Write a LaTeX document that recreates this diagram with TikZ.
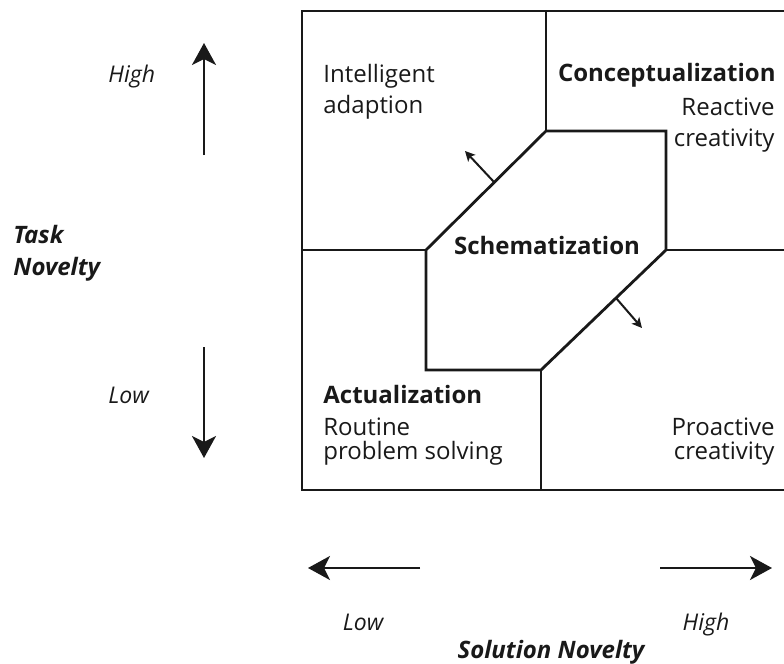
\documentclass[tikz,border=0pt]{standalone}
\usepackage{fontspec}
\setmainfont{Open Sans}
\usetikzlibrary{arrows.meta,positioning}
\tikzstyle{every node}=[inner sep=0pt,font=\fontsize{12}{14}\selectfont,text=black!90]
\tikzstyle{cell}=[anchor=base west]
\tikzstyle{cellr}=[anchor=base east]
\tikzstyle{head}=[font=\fontsize{12}{14}\selectfont\bfseries]
\tikzstyle{axislabel}=[font=\fontsize{12}{14}\selectfont\bfseries\itshape]
\tikzstyle{axisend}=[font=\fontsize{11.5}{14}\selectfont\itshape]
\tikzstyle{wall}=[line width=1.4pt,line join=miter,black!90]
\tikzstyle{axis}=[line width=1.2pt,black!90,-{Stealth[length=11pt,width=12pt,inset=3pt]}]
\tikzstyle{push}=[line width=1pt,black!90,-{Stealth[length=5pt,width=5pt,inset=1.2pt]}]

\begin{document}
\begin{tikzpicture}[x=0.5pt,y=-0.5pt]
  \useasboundingbox (0,0) rectangle (784,664);

  % frame and regions
  \draw[wall] (784,11) -- (302,11) -- (302,490) -- (784,490);
  \draw[wall] (546,11) -- (546,131);
  \draw[wall] (546,131) -- (666,131) -- (666,250) -- (541,370)
        -- (426,370) -- (426,250) -- cycle;
  \draw[wall] (302,250) -- (426,250);
  \draw[wall] (666,250) -- (784,250);
  \draw[wall] (541,370) -- (541,490);

  % quadrant texts
  \node[cell]  (intel)    at (323,83)  {Intelligent};
  \node[cell]  (adapt)    at (323,113) {adaption};
  \node[cellr,head] (concept) at (776,82) {Conceptualization};
  \node[cellr] (react)    at (775,115) {Reactive};
  \node[cellr] (reactcre) at (775,147) {creativity};
  \node[head,anchor=base] (schema) at (547,255) {Schematization};
  \node[cell,head] (actual) at (323,403) {Actualization};
  \node[cell]  (routine)  at (323,435) {Routine};
  \node[cell]  (probsolv) at (323,459) {problem solving};
  \node[cellr] (proact)   at (775,435) {Proactive};
  \node[cellr] (proactcre) at (775,459) {creativity};

  % expansion arrows
  \coordinate (ulfoot) at (494,182);
  \coordinate (ultip)  at (465,151);
  \coordinate (lrfoot) at (616,298);
  \coordinate (lrtip)  at (642,328);
  \draw[push] (ulfoot) -- (ultip);
  \draw[push] (lrfoot) -- (lrtip);

  % task novelty axis
  \node[cell,axisend] (taskhi) at (108,83)  {High};
  \node[cell,axisend] (tasklo) at (108,403) {Low};
  \node[cell,axislabel] (task)  at (13,243) {Task};
  \node[cell,axislabel] (novel) at (13,275) {Novelty};
  \coordinate (upfoot) at (204,155);
  \coordinate (uptip)  at (204,43);
  \coordinate (dnfoot) at (204,347);
  \coordinate (dntip)  at (204,458);
  \draw[axis] (upfoot) -- (uptip);
  \draw[axis] (dnfoot) -- (dntip);

  % solution novelty axis
  \coordinate (ltfoot) at (420,568);
  \coordinate (lttip)  at (308,568);
  \coordinate (rtfoot) at (660,568);
  \coordinate (rttip)  at (772,568);
  \draw[axis] (ltfoot) -- (lttip);
  \draw[axis] (rtfoot) -- (rttip);
  \node[anchor=base,axisend] (sollo) at (363,630) {Low};
  \node[anchor=base,axisend] (solhi) at (706,630) {High};
  \node[anchor=base,axislabel] (solution) at (551,658) {Solution Novelty};
\end{tikzpicture}
\end{document}
